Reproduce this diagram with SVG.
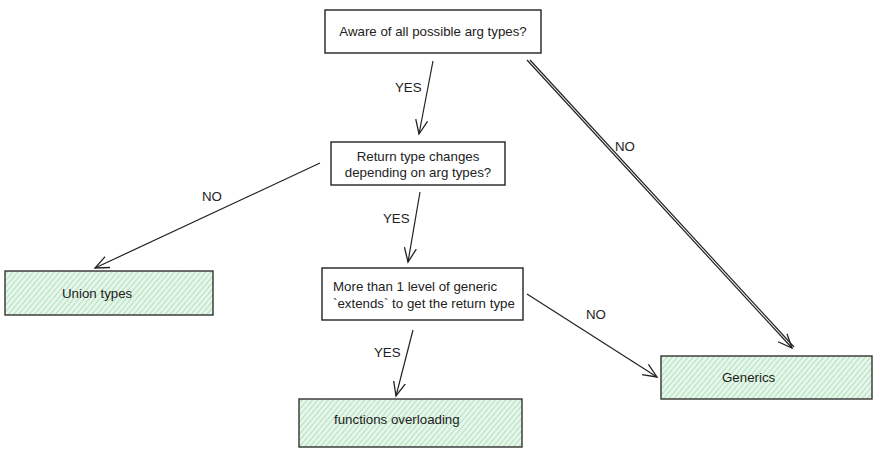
<svg xmlns="http://www.w3.org/2000/svg" width="880" height="453" viewBox="0 0 880 453">
<defs>
<pattern id="hatch" patternUnits="userSpaceOnUse" width="4" height="4" patternTransform="rotate(40)">
<rect width="4" height="4" fill="#e6f6ea"/>
<line x1="0" y1="0" x2="0" y2="4" stroke="#94d6a5" stroke-width="1.3"/>
</pattern>
<marker id="arr" markerWidth="20" markerHeight="16" refX="14" refY="8" orient="auto" markerUnits="userSpaceOnUse">
<path d="M0,2 L14,8 L0,14" fill="none" stroke="#222" stroke-width="1.3"/>
</marker>
</defs>
<style>
.box{fill:#fff;stroke:#222;stroke-width:1.4}
.leaf{fill:url(#hatch);stroke:#333;stroke-width:1.4}
.t{font-family:"Liberation Sans",Arial,sans-serif;font-size:13.3px;fill:#222}
.lbl{font-family:"Liberation Sans",Arial,sans-serif;font-size:13.3px;fill:#222}
.ln{fill:none;stroke:#222;stroke-width:1.2}
</style>
<g id="n1"><rect class="box" x="325" y="10" width="216" height="43"/><text class="t" x="433" y="36" text-anchor="middle">Aware of all possible arg types?</text></g>
<g id="n2"><rect class="box" x="331" y="142" width="174" height="43"/><text class="t" x="418" y="161" text-anchor="middle">Return type changes</text><text class="t" x="418" y="177" text-anchor="middle">depending on arg types?</text></g>
<g id="n3"><rect class="box" x="322" y="268" width="201" height="52"/><text class="t" x="333" y="291">More than 1 level of generic</text><text class="t" x="333" y="308">`extends` to get the return type</text></g>
<g id="n4"><rect class="leaf" x="5" y="271" width="208" height="44"/><text class="t" x="62" y="298">Union types</text></g>
<g id="n5"><rect class="leaf" x="299" y="399" width="223" height="48"/><text class="t" x="334" y="424">functions overloading</text></g>
<g id="n6"><rect class="leaf" x="661" y="356" width="211" height="43"/><text class="t" x="722" y="382">Generics</text></g>
<g id="edges">
<line class="ln" x1="433" y1="61" x2="419" y2="134" marker-end="url(#arr)"/>
<text class="lbl" x="395" y="92">YES</text>
<line class="ln" x1="527" y1="60" x2="792" y2="348" marker-end="url(#arr)"/>
<line class="ln" x1="530" y1="60" x2="794" y2="347" stroke-width="1"/>
<text class="lbl" x="615" y="151">NO</text>
<line class="ln" x1="320" y1="163" x2="95" y2="268" marker-end="url(#arr)"/>
<text class="lbl" x="202" y="201">NO</text>
<line class="ln" x1="420" y1="192" x2="408" y2="262" marker-end="url(#arr)"/>
<text class="lbl" x="383" y="223">YES</text>
<line class="ln" x1="413" y1="330" x2="396" y2="396" marker-end="url(#arr)" stroke-width="1.6"/>
<text class="lbl" x="374" y="357">YES</text>
<line class="ln" x1="527" y1="294" x2="657" y2="377" marker-end="url(#arr)"/>
<text class="lbl" x="586" y="319">NO</text>
</g>
</svg>
